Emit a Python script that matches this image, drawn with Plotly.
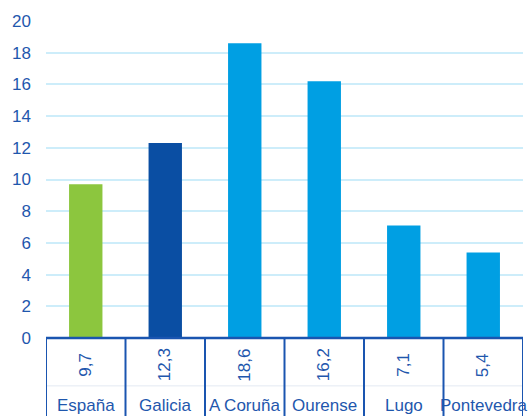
import plotly.graph_objects as go

categories = ["España", "Galicia", "A Coruña", "Ourense", "Lugo", "Pontevedra"]
values = [9.7, 12.3, 18.6, 16.2, 7.1, 5.4]
value_labels = ["9,7", "12,3", "18,6", "16,2", "7,1", "5,4"]
bar_colors = ["#8CC63E", "#0A4EA3", "#009FE3", "#009FE3", "#009FE3", "#009FE3"]
y_ticks = [0, 2, 4, 6, 8, 10, 12, 14, 16, 18, 20]

TXT = "#1F57AD"
LINE = "#1A55B0"
FONT = "Liberation Sans, Arial, sans-serif"

fig = go.Figure(go.Bar(
    x=list(range(len(categories))), y=values,
    marker=dict(color=bar_colors, line=dict(width=0)),
    width=0.42, hoverinfo="skip",
))

shapes = []
# bottom axis line
shapes.append(dict(type="line", xref="x", yref="paper", x0=-0.5, x1=len(categories) - 0.5,
                   y0=0, y1=0, line=dict(color=LINE, width=2.5)))
# faint row separator
shapes.append(dict(type="line", xref="x", yref="paper", x0=-0.5, x1=len(categories) - 0.5,
                   y0=-0.151, y1=-0.151, line=dict(color="#E3E9F2", width=1)))
for i in range(len(categories) + 1):
    shapes.append(dict(type="line", xref="x", yref="paper", x0=i - 0.5, x1=i - 0.5,
                       y0=0, y1=-0.26, line=dict(color=LINE, width=2)))

annotations = []
for i, (c, v) in enumerate(zip(categories, value_labels)):
    annotations.append(dict(x=i, y=-0.085, xref="x", yref="paper", text=v, showarrow=False,
                            textangle=-90, font=dict(family=FONT, size=17, color=TXT),
                            xanchor="center", yanchor="middle"))
    annotations.append(dict(x=i, y=-0.212, xref="x", yref="paper", text=c, showarrow=False,
                            font=dict(family=FONT, size=17, color=TXT),
                            xanchor="center", yanchor="middle"))

fig.update_layout(
    width=528, height=416,
    margin=dict(l=46, r=5, t=21, b=78),
    paper_bgcolor="white", plot_bgcolor="white",
    showlegend=False,
    xaxis=dict(range=[-0.5, len(categories) - 0.5], showticklabels=False, showgrid=False,
               zeroline=False, showline=False, fixedrange=True),
    yaxis=dict(range=[0, 20], tickvals=y_ticks, showgrid=True, gridcolor="#CDEDFA", gridwidth=1.5,
               zeroline=False, showline=False, ticks="", ticklabelstandoff=14,
               tickfont=dict(family=FONT, size=17, color=TXT), fixedrange=True),
    shapes=shapes, annotations=annotations,
)

fig.write_html("out.html")
